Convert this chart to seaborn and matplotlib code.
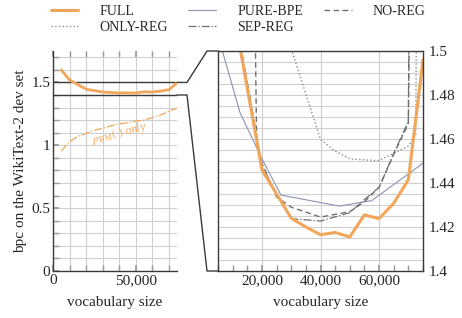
import numpy as np
import pandas as pd
import seaborn as sns
import matplotlib.pyplot as plt
from matplotlib.lines import Line2D
from matplotlib.ticker import MultipleLocator, FuncFormatter

# values
full_x = [5000, 10000, 15000, 20000, 25000, 30000, 35000, 40000, 45000, 50000,
          55000, 60000, 65000, 70000, 75000]
full_y = [1.600, 1.520, 1.483, 1.446, 1.435, 1.424, 1.420, 1.4165, 1.4175, 1.4155,
          1.4255, 1.4238, 1.4308, 1.4415, 1.496]

pbm_x = [5000, 10000, 15000, 20000, 25000, 30000, 35000, 40000, 45000, 50000,
         55000, 60000, 65000, 70000, 75000]
pbm_y = [0.955, 1.03, 1.07, 1.095, 1.12, 1.135, 1.155, 1.17, 1.18, 1.19,
         1.20, 1.22, 1.24, 1.27, 1.295]

pure_x = [5000, 12500, 20000, 26500, 46500, 57500, 75000]
pure_y = [1.507, 1.472, 1.451, 1.4345, 1.4295, 1.432, 1.449]

noreg_x = [17500, 18200, 20000, 25000, 30000, 40000, 50000, 55000, 60000, 65000, 70000, 71000]
noreg_y = [1.53, 1.458, 1.449, 1.4336, 1.429, 1.4245, 1.427, 1.4315, 1.438, 1.453, 1.467, 1.60]

onlyreg_x = [30000, 40000, 45000, 50000, 55000, 60000, 65000, 70000, 72500, 73000]
onlyreg_y = [1.501, 1.4598, 1.4545, 1.451, 1.4505, 1.4502, 1.4535, 1.4568, 1.462, 1.56]

sepreg_x = [10000, 15000, 20000, 25000, 30000, 40000, 50000, 55000, 60000, 65000, 70000, 70500]
sepreg_y = [1.522, 1.486, 1.448, 1.435, 1.4238, 1.4227, 1.4265, 1.4325, 1.438, 1.4535, 1.468, 1.60]

sns.set_theme(style="white")
plt.rcParams['font.family'] = ['Liberation Serif', 'DejaVu Serif']
plt.rcParams['mathtext.fontset'] = 'stix'

ORANGE = '#f2a65a'
GRID = '#cfcfcf'
DARK = '#3a3a3a'
FS = 11

fig = plt.figure(figsize=(4.62, 3.18), dpi=100)
ax1 = fig.add_axes([0.1147, 0.1478, 0.2684, 0.6918])
ax2 = fig.add_axes([0.4719, 0.1478, 0.4437, 0.6918])

comma = FuncFormatter(lambda v, p: f"{int(v):,}")
plain = FuncFormatter(lambda v, p: f"{v:g}")

# ---- left: full range
ax1.set_xlim(0, 75000)
ax1.set_ylim(0, 1.75)
ax1.xaxis.set_major_locator(MultipleLocator(50000))
ax1.xaxis.set_minor_locator(MultipleLocator(10000))
ax1.yaxis.set_major_locator(MultipleLocator(0.5))
ax1.yaxis.set_minor_locator(MultipleLocator(0.1))
ax1.grid(which='both', color=GRID, lw=0.8)
ax1.set_axisbelow(True)
ax1.axhline(1.5, color=DARK, lw=1.0, zorder=3)
ax1.axhline(1.4, color=DARK, lw=1.0, zorder=3)
sns.lineplot(x=full_x, y=full_y, ax=ax1, color=ORANGE, lw=2.0, zorder=4)
sns.lineplot(x=pbm_x, y=pbm_y, ax=ax1, color=ORANGE, lw=0.9, linestyle='-.', zorder=4)
ax1.text(40000, 1.095, r'$p_{\mathrm{BM}}(\cdot)$ only', color=ORANGE, fontsize=8.5,
         rotation=14, ha='center', va='center', style='italic')
for s in ['top', 'right']:
    ax1.spines[s].set_visible(False)
for s in ['left', 'bottom']:
    ax1.spines[s].set_color(DARK)
    ax1.spines[s].set_linewidth(1.0)
ax1.xaxis.set_major_formatter(comma)
ax1.yaxis.set_major_formatter(plain)
ax1.tick_params(which='both', direction='in', top=True, left=True, bottom=True,
                color='#999999', labelsize=FS, pad=2)
ax1.tick_params(which='both', length=4)
ax1.set_xlabel('vocabulary size', fontsize=FS, labelpad=7)
ax1.set_ylabel('bpc on the WikiText-2 dev set', fontsize=FS, labelpad=3)

# ---- right: zoomed range
ax2.set_xlim(5000, 75000)
ax2.set_ylim(1.4, 1.5)
ax2.xaxis.set_major_locator(MultipleLocator(20000))
ax2.xaxis.set_minor_locator(MultipleLocator(5000))
ax2.yaxis.set_major_locator(MultipleLocator(0.02))
ax2.yaxis.set_minor_locator(MultipleLocator(0.005))
ax2.grid(which='major', axis='x', color=GRID, lw=0.8)
ax2.grid(which='both', axis='y', color=GRID, lw=0.8)
ax2.set_axisbelow(True)
sns.lineplot(x=pure_x, y=pure_y, ax=ax2, color='#8a93b0', lw=0.8, label='PURE-BPE')
sns.lineplot(x=onlyreg_x, y=onlyreg_y, ax=ax2, color='#8c8c8c', lw=1.0, linestyle=':', label='ONLY-REG')
sns.lineplot(x=noreg_x, y=noreg_y, ax=ax2, color='#707070', lw=1.0, linestyle=(0, (4, 2.5)), label='NO-REG')
sns.lineplot(x=sepreg_x, y=sepreg_y, ax=ax2, color='#707070', lw=0.9, linestyle='-.', label='SEP-REG')
sns.lineplot(x=full_x, y=full_y, ax=ax2, color=ORANGE, lw=2.2, label='FULL')
for s in ax2.spines.values():
    s.set_color(DARK)
    s.set_linewidth(1.0)
ax2.xaxis.set_major_formatter(comma)
ax2.yaxis.set_major_formatter(plain)
ax2.yaxis.tick_right()
ax2.tick_params(which='both', direction='in', bottom=True, left=False, right=True,
                color='#999999', labelsize=FS, pad=2)
ax2.tick_params(axis='y', which='both', length=0, pad=4)
ax2.tick_params(axis='x', which='both', length=4)
ax2.set_xlabel('vocabulary size', fontsize=FS, labelpad=7)
ax2.set_ylabel('')

# legend above both panels
handles, labels = ax2.get_legend_handles_labels()
ax2.get_legend().remove()
lookup = dict(zip(labels, handles))
order = ['FULL', 'ONLY-REG', 'PURE-BPE', 'SEP-REG', 'NO-REG']
fig.legend([lookup[k] for k in order], order, ncol=3, frameon=False,
           loc='upper center', bbox_to_anchor=(0.515, 1.025), fontsize=10,
           handlelength=2.0, handletextpad=1.5, columnspacing=1.5, labelspacing=0.25)

# zoom connector lines
W, H = fig.bbox.width, fig.bbox.height
for yval, corner in [(1.5, 1.0), (1.4, 0.0)]:
    px, py = ax1.transData.transform((75000, yval))
    qx, qy = ax2.transAxes.transform((0, corner))
    xs = [px, px + 10, qx - 11, qx]
    ys = [py, py, qy, qy]
    fig.add_artist(Line2D([x / W for x in xs], [y / H for y in ys], color=DARK, lw=1.0))

fig.savefig('out.png', dpi=100)
